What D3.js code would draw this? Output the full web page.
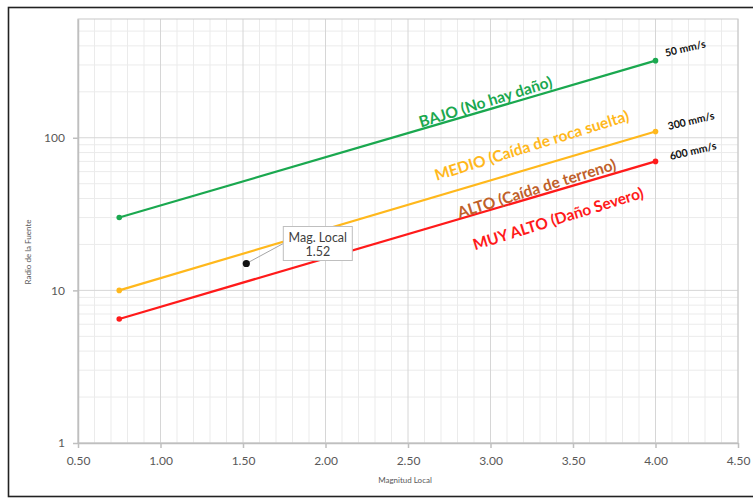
<!DOCTYPE html>
<html>
<head>
<meta charset="utf-8">
<script src="https://cdn.jsdelivr.net/npm/d3@7"></script>
<style>
  body { margin: 0; background: #fff; }
  svg { display: block; font-family: Lato, "Open Sans", sans-serif; }
</style>
</head>
<body>
<div id="chart"></div>
<script>
'use strict';

// data
let magnitudes = [0.75, 4.00];
let bajoValues = [30, 320];
let medioValues = [10, 110];
let rojoValues = [6.5, 70];
let xTicks = [0.5, 1.0, 1.5, 2.0, 2.5, 3.0, 3.5, 4.0, 4.5];
let yTicks = [1, 10, 100];
let point = {mag: 1.52, radio: 15};
let speedLabels = ['50 mm/s', '300 mm/s', '600 mm/s'];
let speedAt = [[4.18, 385], [4.215, 129], [4.227, 82]];
let levelLabels = ['BAJO (No hay daño)', 'MEDIO (Caída de roca suelta)', 'ALTO (Caída de terreno)', 'MUY ALTO (Daño Severo)'];
let levelAt = [[2.97, 172], [3.25, 89], [3.28, 46.5], [3.41, 29.5]];
let levelColors = ['#1aa84f', '#ffb81c', '#c0602a', '#ff1a1a'];

let width = 753,
    height = 498,
    margin = {top: 19, right: 15, bottom: 55, left: 78};

let svg = d3.select('#chart').append('svg')
    .attr('width', width)
    .attr('height', height);

// outer frame
svg.append('rect')
    .attr('x', 8.5).attr('y', 7.5)
    .attr('width', 770).attr('height', 489)
    .attr('fill', 'none')
    .attr('stroke', '#222')
    .attr('stroke-width', 1.6);

let x = d3.scaleLinear().domain([0.5, 4.5]).range([margin.left, width - margin.right]);
let y = d3.scaleLog().domain([1, 600]).range([height - margin.bottom, margin.top]);

// minor grid
let minorX = d3.range(0.6, 4.5, 0.1).filter(v => Math.abs(v * 2 - Math.round(v * 2)) > 0.01);
let minorY = [2, 3, 4, 5, 6, 7, 8, 9, 20, 30, 40, 50, 60, 70, 80, 90, 200, 300, 400, 500];

svg.append('g').selectAll('line').data(minorX).join('line')
    .attr('x1', d => x(d)).attr('x2', d => x(d))
    .attr('y1', y(1)).attr('y2', y(600))
    .attr('stroke', '#ebebeb');

svg.append('g').selectAll('line').data(minorY).join('line')
    .attr('x1', x(0.5)).attr('x2', x(4.5))
    .attr('y1', d => y(d)).attr('y2', d => y(d))
    .attr('stroke', '#ebebeb');

// major grid
svg.append('g').selectAll('line').data(xTicks).join('line')
    .attr('x1', d => x(d)).attr('x2', d => x(d))
    .attr('y1', y(1)).attr('y2', y(600))
    .attr('stroke', '#d6d6d6');

svg.append('g').selectAll('line').data(yTicks).join('line')
    .attr('x1', x(0.5)).attr('x2', x(4.5))
    .attr('y1', d => y(d)).attr('y2', d => y(d))
    .attr('stroke', '#d6d6d6');

// plot border
svg.append('rect')
    .attr('x', x(0.5)).attr('y', y(600))
    .attr('width', x(4.5) - x(0.5)).attr('height', y(1) - y(600))
    .attr('fill', 'none')
    .attr('stroke', '#c8c8c8');

//xAxis
let xAxis = svg.append('g')
    .attr('transform', 'translate(0,' + y(1) + ')')
    .call(d3.axisBottom(x).tickValues(xTicks).tickFormat(d3.format('.2f')).tickSize(5).tickSizeOuter(0));

//yAxis
let yAxis = svg.append('g')
    .attr('transform', 'translate(' + x(0.5) + ',0)')
    .call(d3.axisLeft(y).tickValues(yTicks).tickFormat(d3.format('d')).tickSize(5).tickSizeOuter(0));

[xAxis, yAxis].forEach(function(ax) {
    ax.select('.domain').attr('stroke', '#bfbfbf').attr('stroke-width', 1.5);
    ax.selectAll('.tick line').attr('stroke', '#bfbfbf').attr('stroke-width', 1.5);
    ax.selectAll('.tick text').attr('fill', '#595959').attr('font-size', 12).attr('font-family', 'Lato, sans-serif');
});
xAxis.selectAll('.tick text').attr('dy', '1.15em');
yAxis.selectAll('.tick text').attr('x', -13);

// axis titles
svg.append('text')
    .attr('transform', 'translate(31,252)rotate(-90)')
    .attr('text-anchor', 'middle')
    .attr('font-size', 8)
    .attr('fill', '#595959')
    .text('Radio de la Fuente');

svg.append('text')
    .attr('x', 405).attr('y', 483)
    .attr('text-anchor', 'middle')
    .attr('font-size', 8)
    .attr('fill', '#595959')
    .text('Magnitud Local');

// limit lines
let series = [bajoValues, medioValues, rojoValues];
let lineColors = [levelColors[0], levelColors[1], levelColors[3]];

let line = d3.line()
    .x(d => x(d[0]))
    .y(d => y(d[1]));

series.forEach(function(vals, i) {
    let pts = magnitudes.map((m, j) => [m, vals[j]]);
    svg.append('path')
        .datum(pts)
        .attr('d', line)
        .attr('fill', 'none')
        .attr('stroke', lineColors[i])
        .attr('stroke-width', 2.2);
    svg.append('g').selectAll('circle').data(pts).join('circle')
        .attr('cx', d => x(d[0]))
        .attr('cy', d => y(d[1]))
        .attr('r', 2.8)
        .attr('fill', lineColors[i]);
});

// slope angle of the lines in screen space
let angle = Math.atan2(y(bajoValues[1]) - y(bajoValues[0]), x(magnitudes[1]) - x(magnitudes[0])) * 180 / Math.PI;

// level labels
levelLabels.forEach(function(t, i) {
    svg.append('text')
        .attr('transform', 'translate(' + x(levelAt[i][0]) + ',' + y(levelAt[i][1]) + ')rotate(' + (angle - 1) + ')')
        .attr('text-anchor', 'middle')
        .attr('dy', '.35em')
        .attr('font-size', 15.5)
        .attr('font-weight', 'bold')
        .attr('fill', levelColors[i])
        .text(t);
});

// speed labels
speedLabels.forEach(function(t, i) {
    svg.append('text')
        .attr('transform', 'translate(' + x(speedAt[i][0]) + ',' + y(speedAt[i][1]) + ')rotate(' + (angle + 3) + ')')
        .attr('text-anchor', 'middle')
        .attr('dy', '.35em')
        .attr('font-size', 10.5)
        .attr('font-weight', 'bold')
        .attr('fill', '#111')
        .text(t);
});

// measured point with callout
let px = x(point.mag), py = y(point.radio);
let box = {x: px + 37, y: py - 37, w: 69, h: 34};

svg.append('line')
    .attr('x1', px).attr('y1', py)
    .attr('x2', box.x).attr('y2', box.y + 17)
    .attr('stroke', '#a6a6a6');

svg.append('rect')
    .attr('x', box.x).attr('y', box.y)
    .attr('width', box.w).attr('height', box.h)
    .attr('fill', '#fff')
    .attr('stroke', '#bfbfbf');

svg.append('text')
    .attr('x', box.x + box.w / 2).attr('y', box.y + 15)
    .attr('text-anchor', 'middle')
    .attr('font-size', 12.5)
    .attr('fill', '#404040')
    .text('Mag. Local');

svg.append('text')
    .attr('x', box.x + box.w / 2).attr('y', box.y + 29)
    .attr('text-anchor', 'middle')
    .attr('font-size', 12.5)
    .attr('fill', '#404040')
    .text(d3.format('.2f')(point.mag));

svg.append('circle')
    .attr('cx', px).attr('cy', py)
    .attr('r', 3.6)
    .attr('fill', '#111');
</script>
</body>
</html>
